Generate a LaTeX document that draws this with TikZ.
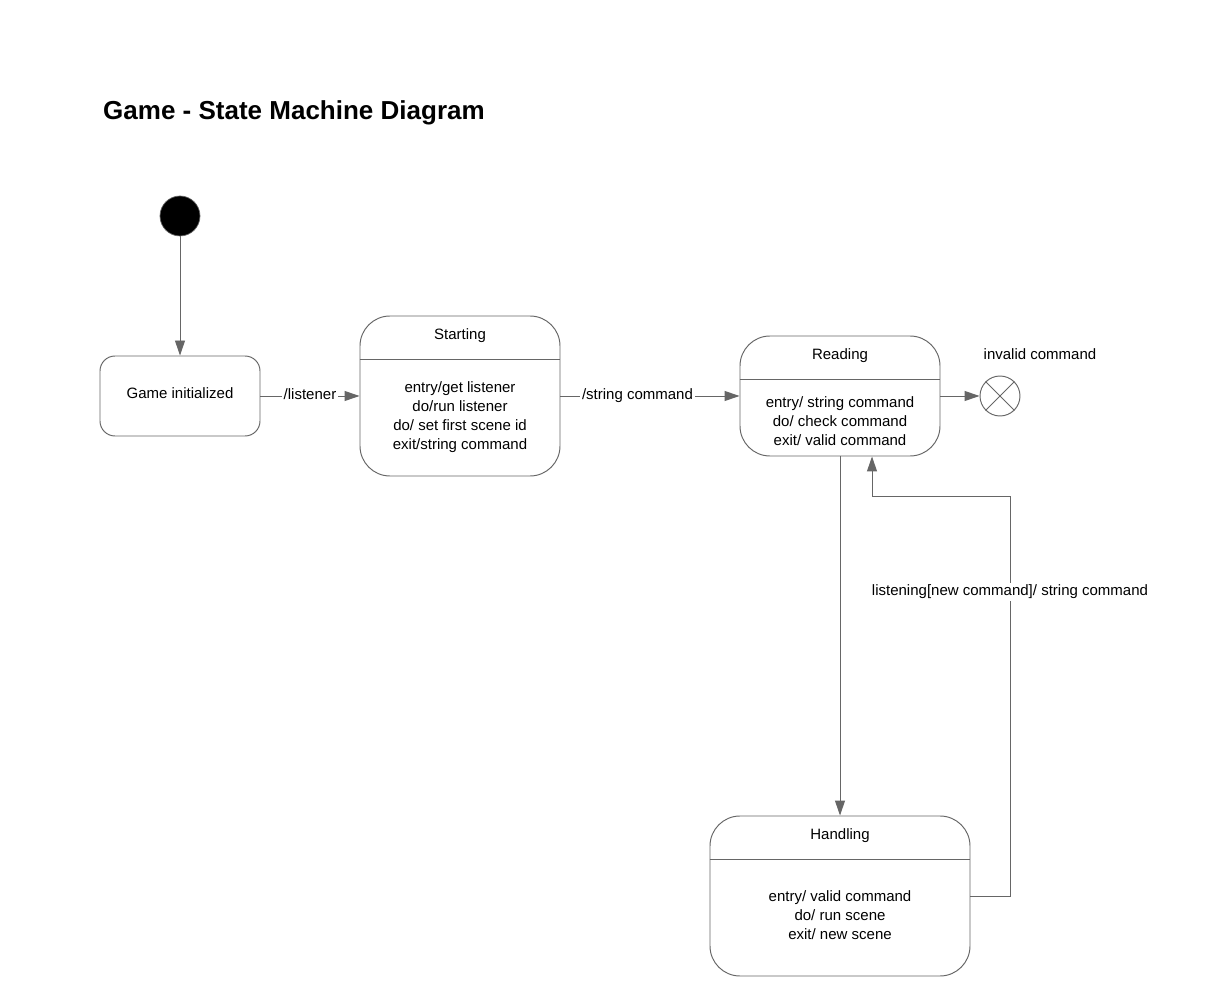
\documentclass[tikz,border=0pt]{standalone}
\usepackage{fontspec}
\setmainfont{Liberation Sans}
\usetikzlibrary{arrows.meta, positioning}
\definecolor{linegray}{HTML}{666666}

\begin{document}
\begin{tikzpicture}[
    >={Triangle[length=0.3cm, width=0.2cm]},
    state/.style={draw=linegray, line width=0.55pt, rectangle, rounded corners=0.3cm, minimum width=3.2cm, minimum height=1.6cm},
    bigstate/.style={draw=linegray, line width=0.55pt, rectangle, rounded corners=0.6cm},
    transition/.style={->, draw=linegray, line width=0.55pt},
    trlabel/.style={fill=white, inner sep=1pt, text=black},
    font=\fontsize{8.54}{10.8}\selectfont
]
\useasboundingbox (0,0) rectangle (24.24,-20.16);

%-------------------------------------------------
% Title
%-------------------------------------------------
\node[anchor=west, font=\fontsize{14.8}{17}\selectfont\bfseries] (title) at (1.94,-2.26) {Game - State Machine Diagram};

%-------------------------------------------------
% States
%-------------------------------------------------
\node[circle, draw=linegray, fill=black, minimum size=0.8cm, inner sep=0pt] (init) at (3.6,-4.32) {};

\node[state, text depth=0.12cm] (gameinit) at (3.6,-7.92) {Game initialized};

\node[bigstate, minimum width=4cm, minimum height=3.2cm] (starting) at (9.2,-7.92) {};
\node (startingtitle) at ([yshift=-0.4cm]starting.north) {Starting};
\draw[linegray, line width=0.55pt] ([yshift=-0.88cm]starting.north west) -- ([yshift=-0.88cm]starting.north east);
\node[align=center] (startingbody) at (9.2,-8.34) {entry/get listener\\do/run listener\\do/ set first scene id\\exit/string command};

\node[bigstate, minimum width=4cm, minimum height=2.4cm] (reading) at (16.8,-7.92) {};
\node (readingtitle) at ([yshift=-0.4cm]reading.north) {Reading};
\draw[linegray, line width=0.55pt] ([yshift=-0.88cm]reading.north west) -- ([yshift=-0.88cm]reading.north east);
\node[align=center] (readingbody) at (16.8,-8.42) {entry/ string command\\do/ check command\\exit/ valid command};

\node[bigstate, minimum width=5.2cm, minimum height=3.2cm] (handling) at (16.8,-17.92) {};
\node (handlingtitle) at ([yshift=-0.4cm]handling.north) {Handling};
\draw[linegray, line width=0.55pt] ([yshift=-0.88cm]handling.north west) -- ([yshift=-0.88cm]handling.north east);
\node[align=center] (handlingbody) at (16.8,-18.3) {entry/ valid command\\do/ run scene\\exit/ new scene};

\node[circle, draw=linegray, line width=0.55pt, minimum size=0.8cm, inner sep=0pt] (final) at (20,-7.92) {};
\draw[linegray, line width=0.55pt] (final.north west) -- (final.south east);
\draw[linegray, line width=0.55pt] (final.north east) -- (final.south west);
\node (invalid) at (20.8,-7.08) {invalid command};

%-------------------------------------------------
% Transitions
%-------------------------------------------------
\draw[transition] (init) -- (gameinit);

\draw[transition] (gameinit) -- node[trlabel, yshift=0.04cm] {/listener} (starting);

\draw[transition] (starting) -- node[trlabel, pos=0.43] {/string command} (reading);

\draw[transition] (reading) -- (final);

\draw[transition] (reading) -- (handling);

\coordinate (loop) at (20.2,-9.92);
\draw[transition] (handling.east) -| node[trlabel, pos=0.88] {listening[new command]/ string command} (loop) -| ([xshift=0.64cm]reading.south);

\end{tikzpicture}
\end{document}
